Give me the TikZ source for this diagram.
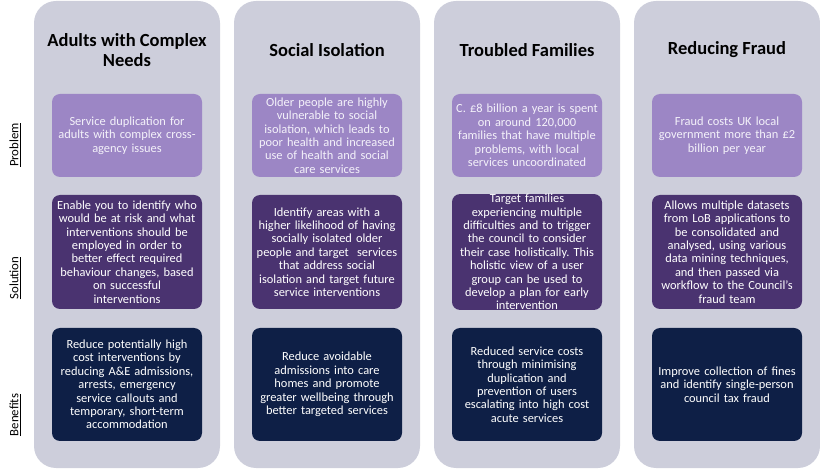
\documentclass[tikz,border=0pt]{standalone}
\usepackage{fontspec}
\setmainfont{Carlito}
\usetikzlibrary{positioning}
\definecolor{colbg}{RGB}{205,206,219}
\definecolor{probc}{RGB}{156,134,197}
\definecolor{solc}{RGB}{74,51,112}
\definecolor{benc}{RGB}{14,31,70}
\definecolor{probtxt}{RGB}{244,242,250}
\tikzset{
  column/.style={fill=colbg, draw=none, rounded corners=22pt, minimum width=186pt, minimum height=467pt, inner sep=0pt},
  boxbase/.style={draw=none, rounded corners=8pt, minimum width=150pt, text width=150pt, align=center, inner sep=0pt, text=white, font=\frenchspacing\fontsize{12.4}{13.4}\selectfont},
  probbox/.style={boxbase, fill=probc, minimum height=83pt, text=probtxt},
  solbox/.style={boxbase, fill=solc, minimum height=114pt},
  benbox/.style={boxbase, fill=benc, minimum height=113pt},
  title/.style={font=\bfseries\fontsize{18.5}{20}\selectfont, align=center, text=black},
  sidelabel/.style={rotate=90, font=\fontsize{12.8}{14}\selectfont, text=black}
}
\begin{document}
\begin{tikzpicture}[x=1pt,y=-1pt]
\useasboundingbox (0,0) rectangle (820,470);
% columns
\node[column] (c1) at (127,234.5) {};
\node[column] (c2) at (327,234.5) {};
\node[column] (c3) at (527,234.5) {};
\node[column] (c4) at (727,234.5) {};
% titles
\node[title] (t1) at (127,50) {Adults with Complex\\Needs};
\node[title] (t2) at (327,50) {Social Isolation};
\node[title] (t3) at (527,50) {Troubled Families};
\node[title] (t4) at (727,50) {Reducing Fraud};
% side labels
\node[sidelabel] (lp) at (15,145) {\underline{Problem}};
\node[sidelabel] (ls) at (15,278) {\underline{Solution}};
\node[sidelabel] (lb) at (15,415) {\underline{Benefits}};
% column 1
\node[probbox] (p1) at (127,135.5) {Service duplication for\\adults with complex cross-\\agency issues};
\node[solbox] (s1) at (127,252) {Enable you to identify who\\would be at risk and what\\interventions should be\\employed in order to\\better effect required\\behaviour changes, based\\on successful\\interventions};
\node[benbox] (b1) at (127,384.5) {Reduce potentially high\\cost interventions by\\reducing A\&E admissions,\\arrests, emergency\\service callouts and\\temporary, short-term\\accommodation};
% column 2
\node[probbox] (p2) at (327,135.5) {Older people are highly\\vulnerable to social\\isolation, which leads to\\poor health and increased\\use of health and social\\care services};
\node[solbox] (s2) at (327,252) {Identify areas with a\\higher likelihood of having\\socially isolated older\\people and target\ \ services\\that address social\\isolation and target future\\service interventions};
\node[benbox] (b2) at (327,384.5) {Reduce avoidable\\admissions into care\\homes and promote\\greater wellbeing through\\better targeted services};
% column 3
\node[probbox] (p3) at (527,135.5) {C. £8 billion a year is spent\\on around 120,000\\families that have multiple\\problems, with local\\services uncoordinated};
\node[solbox] (s3) at (527,252) {Target families\\experiencing multiple\\difficulties and to trigger\\the council to consider\\their case holistically. This\\holistic view of a user\\group can be used to\\develop a plan for early\\intervention};
\node[benbox] (b3) at (527,384.5) {Reduced service costs\\through minimising\\duplication and\\prevention of users\\escalating into high cost\\acute services};
% column 4
\node[probbox] (p4) at (727,135.5) {Fraud costs UK local\\government more than £2\\billion per year};
\node[solbox] (s4) at (727,252) {Allows multiple datasets\\from LoB applications to\\be consolidated and\\analysed, using various\\data mining techniques,\\and then passed via\\workflow to the Council’s\\fraud team};
\node[benbox] (b4) at (727,384.5) {Improve collection of fines\\and identify single-person\\council tax fraud};
\end{tikzpicture}
\end{document}
